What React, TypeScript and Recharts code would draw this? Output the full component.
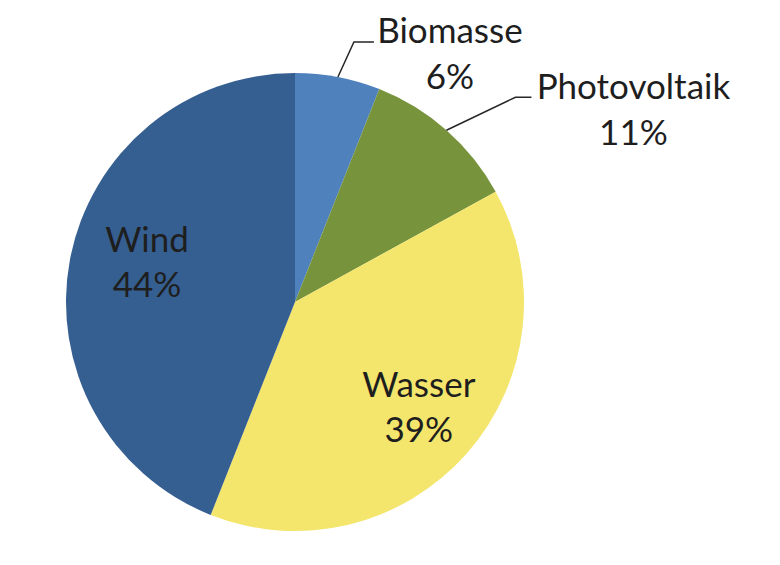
import { PieChart, Pie, Cell } from 'recharts'

const sources = ['Biomasse', 'Photovoltaik', 'Wasser', 'Wind']
const shares = [6, 11, 39, 44]
const colors = ['#4F81BD', '#77933C', '#F4E66C', '#355E91']

const data = sources.map((name, i) => ({ name, value: shares[i] }))

const RADIAN = Math.PI / 180
const FONT = 'Lato, "Liberation Sans", sans-serif'

// label placement relative to the slice: outside ones hang off the rim with an elbow leader
const outside: Record<string, { tx: number; ty: number; elbow: [number, number]; end: [number, number] }> = {
  Biomasse: { tx: 112, ty: -34, elbow: [16, -35], end: [36, -35] },
  Photovoltaik: { tx: 187, ty: -31, elbow: [69, -33], end: [85, -33] },
}
const inside: Record<string, { dx: number; dy: number }> = {
  Wind: { dx: 5, dy: -21 },
  Wasser: { dx: 7, dy: -8 },
}

function renderLabel(props: any) {
  const { cx, cy, midAngle, outerRadius, name, percent } = props
  const pct = `${Math.round(percent * 100)}%`
  const cos = Math.cos(-midAngle * RADIAN)
  const sin = Math.sin(-midAngle * RADIAN)

  const o = outside[name]
  if (o) {
    const ex = cx + outerRadius * cos
    const ey = cy + outerRadius * sin
    return (
      <g key={name}>
        <polyline
          points={`${ex},${ey} ${ex + o.elbow[0]},${ey + o.elbow[1]} ${ex + o.end[0]},${ey + o.end[1]}`}
          fill="none"
          stroke="#262626"
          strokeWidth={1.5}
        />
        <text
          x={ex + o.tx}
          y={ey + o.ty}
          textAnchor="middle"
          fill="#1e1e1e"
          fontSize={35}
          fontFamily={FONT}
        >
          <tspan x={ex + o.tx}>{name}</tspan>
          <tspan x={ex + o.tx} dy={46}>{pct}</tspan>
        </text>
      </g>
    )
  }

  const r = outerRadius * 0.68
  const lx = cx + r * cos + (inside[name]?.dx ?? 0)
  const ly = cy + r * sin + (inside[name]?.dy ?? 0)
  return (
    <text
      key={name}
      x={lx}
      y={ly}
      textAnchor="middle"
      fill="#1e1e1e"
      fontSize={35}
      fontFamily={FONT}
    >
      <tspan x={lx}>{name}</tspan>
      <tspan x={lx} dy={45}>{pct}</tspan>
    </text>
  )
}

export default function App() {
  return (
    <div style={{ position: 'absolute', left: 0, top: 0, width: 780, height: 565, background: '#fff' }}>
      <PieChart width={780} height={565} margin={{ top: 0, right: 0, bottom: 0, left: 0 }}>
        <Pie
          data={data}
          dataKey="value"
          nameKey="name"
          cx={295}
          cy={302}
          outerRadius={229}
          startAngle={90}
          endAngle={-270}
          stroke="none"
          label={renderLabel}
          labelLine={false}
          isAnimationActive={false}
        >
          {data.map((d, i) => (
            <Cell key={d.name} fill={colors[i]} />
          ))}
        </Pie>
      </PieChart>
    </div>
  )
}
